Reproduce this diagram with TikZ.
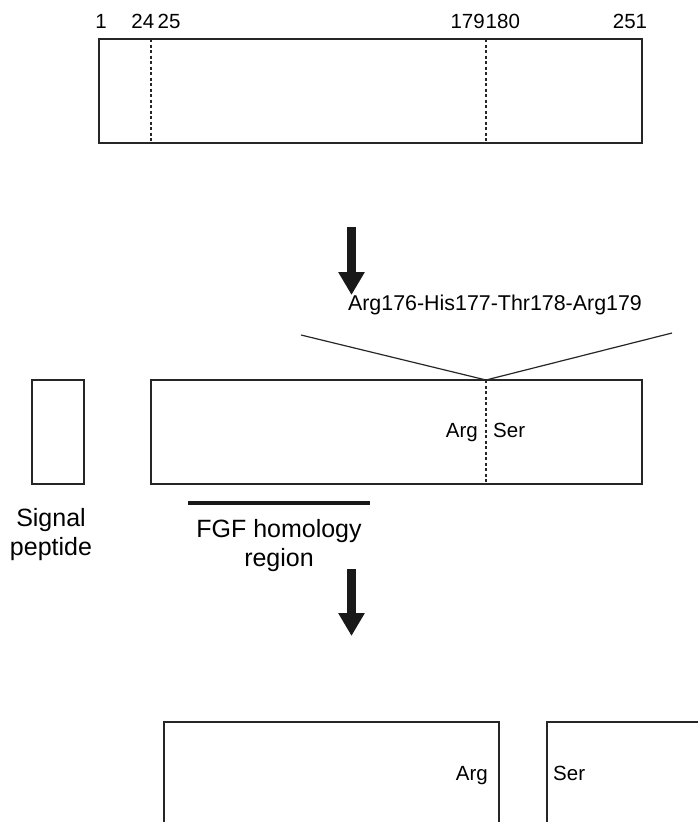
\documentclass[tikz,border=0pt]{standalone}
\usepackage{fontspec}
\setmainfont{Liberation Sans}
\usetikzlibrary{arrows.meta}
\begin{document}
\begin{tikzpicture}[x=1pt,y=-1pt,
  box/.style={line width=1.6pt,draw=black!85},
  cut/.style={line width=1.4pt,dash pattern=on 3pt off 2.5pt,draw=black!85},
  bigarrow/.style={line width=9pt,draw=black!90,-{Triangle[length=23pt,width=25pt]}},
  lab/.style={font=\fontsize{20.5}{24}\selectfont,inner sep=0pt},
  biglab/.style={font=\fontsize{25}{30}\selectfont,inner sep=0pt}]
\useasboundingbox (0,0) rectangle (698,822);
\clip (0,0) rectangle (698,822);

% precursor 1-251
\coordinate (p1) at (99,39);
\coordinate (p2) at (642,143);
\coordinate (s1) at (151,39);
\coordinate (s2) at (486,39);
\draw[box] (p1) rectangle (p2);
\draw[cut] (s1) -- (s1 |- p2);
\draw[cut] (s2) -- (s2 |- p2);
\node[lab,anchor=base] (n1) at (101,28) {1};
\node[lab,anchor=base east] (n24) at (154.5,28) {24};
\node[lab,anchor=base west] (n25) at (157.5,28) {25};
\node[lab,anchor=base east] (n179) at (485,28) {179};
\node[lab,anchor=base west] (n180) at (485.5,28) {180};
\node[lab,anchor=base] (n251) at (630,28) {251};

\coordinate (a1) at (351.5,227);
\coordinate (a1e) at (351.5,295);
\draw[bigarrow] (a1) -- (a1e);

% signal peptide cleaved off
\coordinate (sp1) at (32,380);
\coordinate (sp2) at (84,484);
\draw[box] (sp1) rectangle (sp2);
\node[biglab,anchor=base] (sig) at (51,526) {Signal};
\node[biglab,anchor=base] (pep) at (51,555) {peptide};

\coordinate (m1) at (151,380);
\coordinate (m2) at (642,484);
\coordinate (cs) at (486,380);
\draw[box] (m1) rectangle (m2);
\draw[cut] (cs) -- (cs |- m2);
\node[lab,anchor=base east] (arg) at (478,437) {Arg};
\node[lab,anchor=base west] (ser) at (493,437) {Ser};

\coordinate (kl) at (301,335);
\coordinate (kr) at (672,333);
\draw[line width=1.2pt,black!85] (kl) -- (cs) -- (kr);
\node[lab,anchor=base,font=\fontsize{21.4}{25}\selectfont] (site) at (495,310) {Arg176-His177-Thr178-Arg179};

\coordinate (f1) at (188,503);
\coordinate (f2) at (370,503);
\draw[line width=3.3pt,black!90] (f1) -- (f2);
\node[biglab,anchor=base] (fgf) at (279,537) {FGF homology};
\node[biglab,anchor=base] (reg) at (279,566) {region};

\coordinate (a2) at (351.5,569);
\coordinate (a2e) at (351.5,636);
\draw[bigarrow] (a2) -- (a2e);

% cleaved at Arg179-Ser180
\coordinate (b1) at (164,722);
\coordinate (b2) at (499,840);
\coordinate (c1) at (547,722);
\coordinate (c2) at (720,840);
\draw[box] (b1) rectangle (b2);
\draw[box] (c1) rectangle (c2);
\node[lab,anchor=base east] (arg2) at (488,780) {Arg};
\node[lab,anchor=base west] (ser2) at (553,780) {Ser};

\end{tikzpicture}
\end{document}
